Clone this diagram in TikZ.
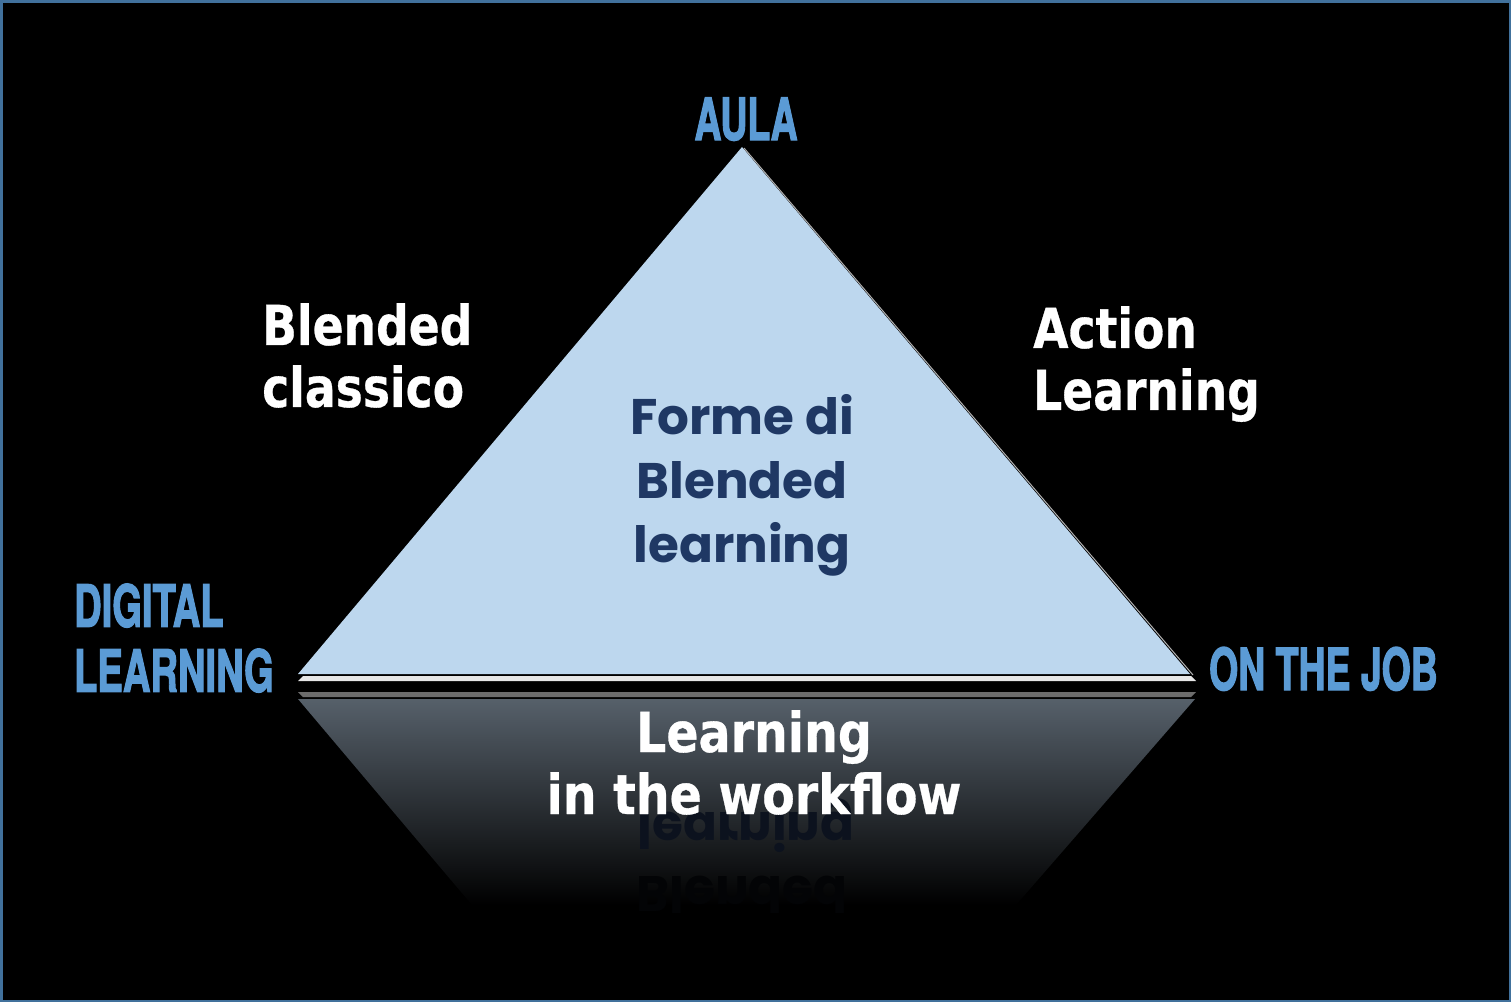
\documentclass[tikz,border=0pt]{standalone}
\usepackage{fontspec}
\usepackage{xcolor}
\usepackage{tikz}
\usetikzlibrary{positioning, calc}
\newfontfamily\whitefont{DejaVu Sans}[BoldFeatures={FakeBold=0.6}]
\newfontfamily\centerfont{Poppins}
\newfontfamily\cornerfont{TeX Gyre Heros}[BoldFeatures={FakeBold=2.5}]
\definecolor{pyramidblue}{RGB}{189, 215, 238}
\definecolor{cornerblue}{RGB}{91, 155, 213}
\definecolor{formenavy}{RGB}{31, 56, 100}
\definecolor{frameblue}{RGB}{65, 113, 156}
\definecolor{bevelgray}{RGB}{230, 230, 230}
\definecolor{bevelshadow}{RGB}{108, 108, 108}
\definecolor{reflectgray}{RGB}{86, 96, 106}
\definecolor{mirrornavy}{RGB}{12, 18, 30}
\definecolor{mirrorfaint}{RGB}{3, 4, 6}

\tikzset{
    whitelabel/.style={text=white, font={\whitefont\bfseries\fontsize{55}{62}\selectfont},
          align=left, inner sep=0pt, xscale=0.83, transform shape},
    cornerlabel/.style={text=cornerblue, font={\cornerfont\bfseries\fontsize{58}{65}\selectfont},
          align=left, inner sep=0pt, xscale=0.645, transform shape},
    centerlabel/.style={font={\centerfont\bfseries\fontsize{50}{64}\selectfont},
          align=center, inner sep=0pt}
}

\begin{document}
\begin{tikzpicture}[x=1pt, y=-1pt]
    \useasboundingbox (0,0) rectangle (1511,1002);
    \draw[fill=black, draw=frameblue, line width=2.5pt] (1.25,1.25) rectangle (1509.75,1000.75);

    \shade[top color=reflectgray, bottom color=black] (298,699) -- (1195,699) -- (1016,905) -- (472,905) -- cycle;
    \node[centerlabel, text=mirrornavy, anchor=base, yscale=-1, transform shape] (mirrorlearning) at (746,812) {learning};
    \node[centerlabel, text=mirrorfaint, anchor=base, yscale=-1, transform shape] (mirrorblended) at (742,876) {Blended};
    \fill[bevelshadow] (298,692) -- (1196,692) -- (1191,697) -- (303,697) -- cycle;

    \fill[bevelgray] (303,676) -- (1191,676) -- (1196,681) -- (298,681) -- cycle;
    \fill[pyramidblue] (742,147) -- (1190,674) -- (298,674) -- cycle;
    \draw[gray!60, line width=1pt] (744,148) -- (1193,675);

    \node[cornerlabel, anchor=base] (aula) at (746,140) {AULA};
    \node[cornerlabel, anchor=north west, xscale=1.02] (digital) at (74,583.5) {DIGITAL\\LEARNING};
    \node[cornerlabel, anchor=base west] (onthejob) at (1209,690) {ON THE JOB};

    \node[whitelabel, anchor=north west] (classico) at (262,303) {Blended\\classico};
    \node[whitelabel, anchor=north west] (action) at (1033,306) {Action\\Learning};
    \node[centerlabel, text=formenavy, anchor=north] (forme) at (742,394) {Forme di\\Blended\\learning};
    \node[whitelabel, align=center, anchor=north, xscale=1.04] (workflow) at (754,710) {Learning\\in the workflow};
\end{tikzpicture}
\end{document}
